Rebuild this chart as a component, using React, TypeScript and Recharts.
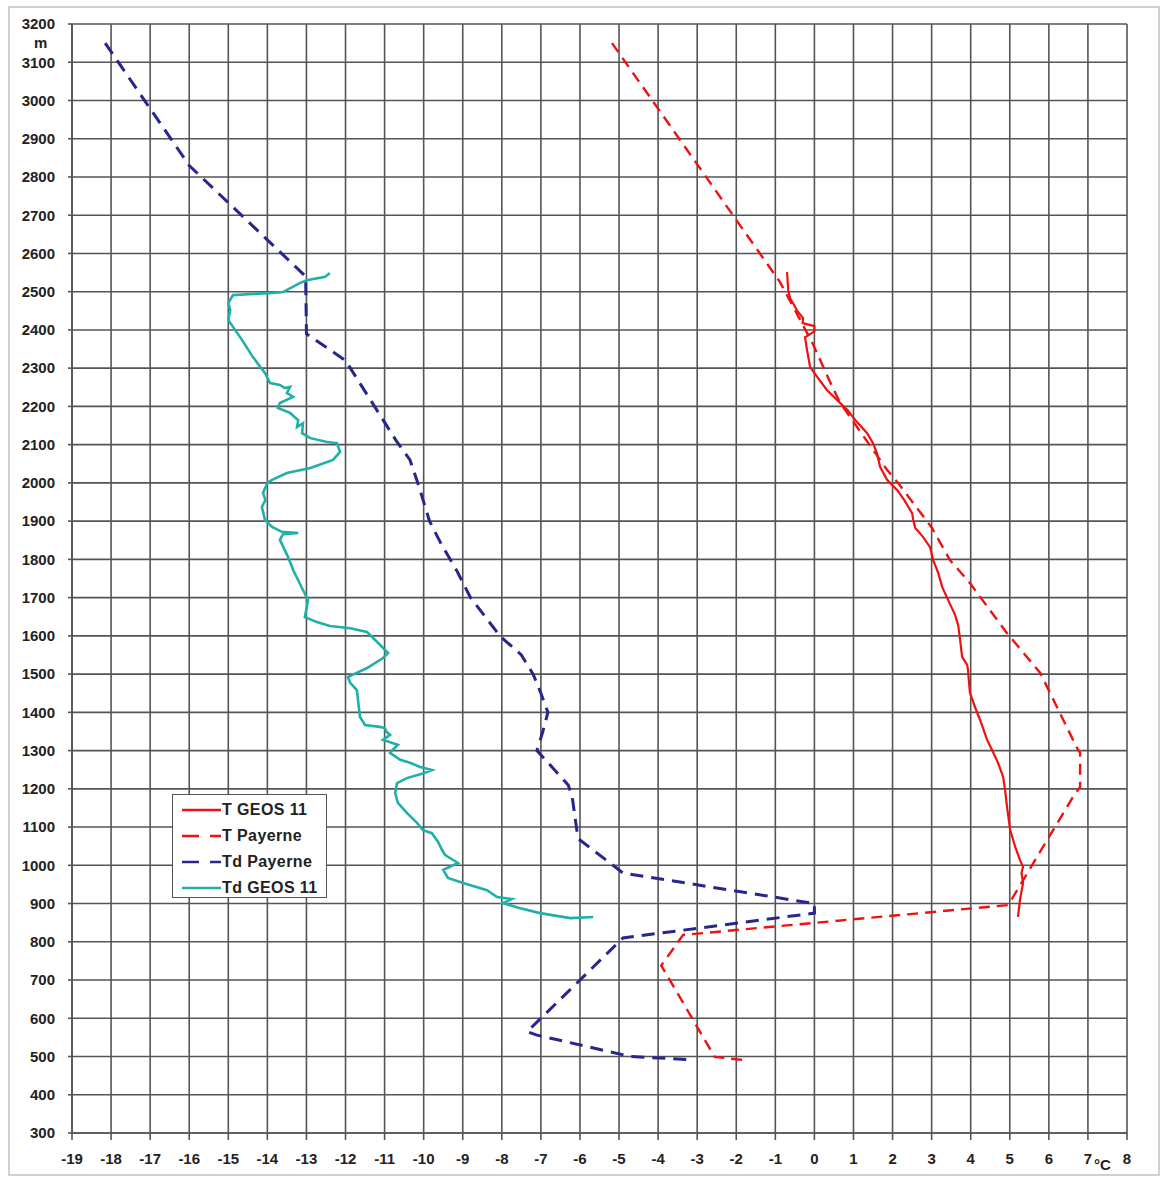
import { ScatterChart, Scatter, XAxis, YAxis, CartesianGrid, Legend } from "recharts"

// temperature profiles: h = height (m), t = temperature (°C)
const tGeos = [
  { h: 2551, t: -0.7 }, { h: 2504, t: -0.67 }, { h: 2483, t: -0.62 }, { h: 2447, t: -0.42 },
  { h: 2431, t: -0.29 }, { h: 2418, t: -0.3 }, { h: 2410, t: 0.0 }, { h: 2396, t: 0.0 },
  { h: 2381, t: -0.24 }, { h: 2348, t: -0.19 }, { h: 2303, t: -0.11 }, { h: 2277, t: 0.07 },
  { h: 2243, t: 0.32 }, { h: 2217, t: 0.58 }, { h: 2191, t: 0.84 }, { h: 2159, t: 1.09 },
  { h: 2130, t: 1.35 }, { h: 2104, t: 1.5 }, { h: 2078, t: 1.6 }, { h: 2042, t: 1.68 },
  { h: 2008, t: 1.86 }, { h: 1981, t: 2.12 }, { h: 1955, t: 2.3 }, { h: 1921, t: 2.5 },
  { h: 1903, t: 2.53 }, { h: 1882, t: 2.58 }, { h: 1859, t: 2.78 }, { h: 1832, t: 2.96 },
  { h: 1798, t: 3.04 }, { h: 1764, t: 3.17 }, { h: 1728, t: 3.27 }, { h: 1694, t: 3.42 },
  { h: 1655, t: 3.6 }, { h: 1628, t: 3.68 }, { h: 1589, t: 3.73 }, { h: 1545, t: 3.78 },
  { h: 1524, t: 3.91 }, { h: 1511, t: 3.93 }, { h: 1451, t: 3.98 }, { h: 1414, t: 4.11 },
  { h: 1380, t: 4.24 }, { h: 1328, t: 4.42 }, { h: 1301, t: 4.55 }, { h: 1268, t: 4.7 },
  { h: 1231, t: 4.83 }, { h: 1197, t: 4.88 }, { h: 1152, t: 4.93 }, { h: 1092, t: 5.01 },
  { h: 1048, t: 5.14 }, { h: 1014, t: 5.26 }, { h: 996, t: 5.34 }, { h: 980, t: 5.3 },
  { h: 954, t: 5.34 }, { h: 909, t: 5.26 }, { h: 865, t: 5.21 },
]

const tPayerne = [
  { h: 3150, t: -5.18 }, { h: 2525, t: -0.88 }, { h: 2366, t: -0.05 }, { h: 2253, t: 0.45 },
  { h: 2209, t: 0.66 }, { h: 2034, t: 1.86 }, { h: 2000, t: 2.14 }, { h: 1882, t: 3.01 },
  { h: 1798, t: 3.47 }, { h: 1738, t: 3.98 }, { h: 1607, t: 4.93 }, { h: 1503, t: 5.78 },
  { h: 1307, t: 6.72 }, { h: 1294, t: 6.8 }, { h: 1205, t: 6.8 }, { h: 1179, t: 6.62 },
  { h: 1048, t: 5.85 }, { h: 896, t: 4.96 }, { h: 818, t: -3.36 }, { h: 738, t: -3.92 },
  { h: 499, t: -2.55 }, { h: 491, t: -1.83 },
]

const tdPayerne = [
  { h: 3150, t: -18.15 }, { h: 2830, t: -16.0 }, { h: 2540, t: -13.02 }, { h: 2390, t: -13.0 },
  { h: 2320, t: -12.0 }, { h: 2110, t: -10.7 }, { h: 2060, t: -10.35 }, { h: 2000, t: -10.15 },
  { h: 1900, t: -9.85 }, { h: 1840, t: -9.55 }, { h: 1770, t: -9.15 }, { h: 1700, t: -8.8 },
  { h: 1600, t: -8.05 }, { h: 1550, t: -7.5 }, { h: 1500, t: -7.2 }, { h: 1450, t: -7.0 },
  { h: 1400, t: -6.82 }, { h: 1350, t: -6.95 }, { h: 1300, t: -7.1 }, { h: 1210, t: -6.3 },
  { h: 1180, t: -6.2 }, { h: 1070, t: -6.05 }, { h: 980, t: -4.9 }, { h: 900, t: 0.0 },
  { h: 875, t: 0.0 }, { h: 810, t: -4.9 }, { h: 565, t: -7.35 }, { h: 556, t: -7.1 },
  { h: 500, t: -4.7 }, { h: 492, t: -3.2 },
]

const tdGeos = [
  { h: 2549, t: -12.4 }, { h: 2539, t: -12.52 }, { h: 2530, t: -12.99 }, { h: 2523, t: -13.16 },
  { h: 2499, t: -13.6 }, { h: 2497, t: -13.86 }, { h: 2491, t: -14.88 }, { h: 2470, t: -15.0 },
  { h: 2452, t: -14.95 }, { h: 2426, t: -15.0 }, { h: 2408, t: -14.88 }, { h: 2374, t: -14.65 },
  { h: 2329, t: -14.37 }, { h: 2287, t: -14.06 }, { h: 2261, t: -13.93 }, { h: 2256, t: -13.68 },
  { h: 2248, t: -13.55 }, { h: 2251, t: -13.42 }, { h: 2235, t: -13.5 }, { h: 2225, t: -13.34 },
  { h: 2209, t: -13.68 }, { h: 2196, t: -13.73 }, { h: 2183, t: -13.42 }, { h: 2164, t: -13.21 },
  { h: 2146, t: -13.24 }, { h: 2156, t: -13.09 }, { h: 2130, t: -13.11 }, { h: 2117, t: -12.9 },
  { h: 2107, t: -12.47 }, { h: 2104, t: -12.22 }, { h: 2081, t: -12.14 }, { h: 2060, t: -12.32 },
  { h: 2039, t: -12.9 }, { h: 2026, t: -13.5 }, { h: 2008, t: -13.88 }, { h: 2000, t: -14.0 },
  { h: 1974, t: -14.11 }, { h: 1955, t: -14.05 }, { h: 1937, t: -14.14 }, { h: 1903, t: -14.06 },
  { h: 1885, t: -13.88 }, { h: 1872, t: -13.63 }, { h: 1869, t: -13.21 }, { h: 1866, t: -13.6 },
  { h: 1851, t: -13.68 }, { h: 1806, t: -13.47 }, { h: 1772, t: -13.34 }, { h: 1720, t: -13.09 },
  { h: 1694, t: -12.96 }, { h: 1676, t: -12.99 }, { h: 1649, t: -13.04 }, { h: 1636, t: -12.73 },
  { h: 1626, t: -12.4 }, { h: 1620, t: -11.88 }, { h: 1610, t: -11.45 }, { h: 1584, t: -11.19 },
  { h: 1555, t: -10.91 }, { h: 1542, t: -11.04 }, { h: 1516, t: -11.45 }, { h: 1492, t: -11.94 },
  { h: 1477, t: -11.88 }, { h: 1458, t: -11.71 }, { h: 1432, t: -11.68 }, { h: 1388, t: -11.63 },
  { h: 1367, t: -11.5 }, { h: 1362, t: -11.12 }, { h: 1359, t: -10.99 }, { h: 1349, t: -10.95 },
  { h: 1341, t: -10.86 }, { h: 1328, t: -11.04 }, { h: 1320, t: -10.8 }, { h: 1315, t: -10.66 },
  { h: 1301, t: -10.8 }, { h: 1294, t: -10.86 }, { h: 1276, t: -10.6 }, { h: 1268, t: -10.35 },
  { h: 1257, t: -10.09 }, { h: 1249, t: -9.79 }, { h: 1241, t: -10.0 }, { h: 1228, t: -10.43 },
  { h: 1215, t: -10.68 }, { h: 1189, t: -10.73 }, { h: 1163, t: -10.66 }, { h: 1137, t: -10.43 },
  { h: 1111, t: -10.17 }, { h: 1092, t: -10.02 }, { h: 1084, t: -9.79 }, { h: 1061, t: -9.63 },
  { h: 1040, t: -9.53 }, { h: 1027, t: -9.45 }, { h: 1006, t: -9.12 }, { h: 988, t: -9.5 },
  { h: 967, t: -9.38 }, { h: 954, t: -8.99 }, { h: 935, t: -8.38 }, { h: 917, t: -8.12 },
  { h: 912, t: -7.74 }, { h: 901, t: -7.97 }, { h: 888, t: -7.53 }, { h: 875, t: -7.02 },
  { h: 862, t: -6.25 }, { h: 865, t: -5.66 },
]

const xTicks = Array.from({ length: 28 }, (_, i) => i - 19)
const yTicks = Array.from({ length: 30 }, (_, i) => 300 + i * 100)

const RED = "#f01010"
const NAVY = "#26268c"
const TEAL = "#1fb0a8"
const GRID = "#555"
const FONT = "'Liberation Sans', Arial, sans-serif"

const series = [
  { name: "T GEOS 11", data: tGeos, color: RED, width: 2.2, dash: undefined, icon: undefined },
  { name: "T Payerne", data: tPayerne, color: RED, width: 2.4, dash: "11 7", icon: "17 11" },
  { name: "Td Payerne", data: tdPayerne, color: NAVY, width: 3, dash: "13 8", icon: "17 11" },
  { name: "Td GEOS 11", data: tdGeos, color: TEAL, width: 2.6, dash: undefined, icon: undefined },
]

const noDot = () => <g />

function LegendBox() {
  return (
    <div
      style={{
        width: 155,
        height: 104,
        border: "1.5px solid #555",
        background: "#fff",
        boxSizing: "border-box",
        paddingTop: 2,
        fontFamily: FONT,
        fontWeight: "bold",
        fontSize: 16,
        color: "#222",
      }}
    >
      {series.map((s) => (
        <div key={s.name} style={{ display: "flex", alignItems: "center", height: 26 }}>
          <svg width={48} height={10} style={{ flexShrink: 0 }}>
            <line x1={9} y1={5} x2={48} y2={5} stroke={s.color} strokeWidth={2.5} strokeDasharray={s.icon} />
          </svg>
          <span style={{ marginLeft: 1, letterSpacing: 0.4 }}>{s.name}</span>
        </div>
      ))}
    </div>
  )
}

export default function App() {
  const tickStyle = { fontSize: 15, fontWeight: "bold", fill: "#222", fontFamily: FONT }
  return (
    <div style={{ position: "absolute", left: 0, top: 0, width: 1165, height: 1181, background: "#fff" }}>
      <div
        style={{
          position: "absolute",
          left: 8,
          top: 6,
          width: 1152,
          height: 1170,
          border: "2px solid #cfcfcf",
          boxSizing: "border-box",
        }}
      />
      <ScatterChart width={1165} height={1181} margin={{ top: 24, right: 38, left: 0, bottom: 8 }}>
        <CartesianGrid stroke={GRID} strokeWidth={1.6} />
        <XAxis
          type="number"
          dataKey="t"
          domain={[-19, 8]}
          ticks={xTicks}
          interval={0}
          allowDataOverflow
          height={40}
          tickSize={7}
          tickMargin={13}
          tick={tickStyle}
          stroke={GRID}
          strokeWidth={1.6}
        />
        <YAxis
          type="number"
          dataKey="h"
          domain={[300, 3200]}
          ticks={yTicks}
          interval={0}
          allowDataOverflow
          width={72}
          tickSize={4}
          tickMargin={13}
          tick={tickStyle}
          stroke={GRID}
          strokeWidth={1.6}
        />
        <Legend
          layout="vertical"
          align="center"
          verticalAlign="middle"
          content={() => <LegendBox />}
          wrapperStyle={{ left: 172, top: 794, width: 155, height: 104 }}
        />
        {series.map((s) => (
          <Scatter
            key={s.name}
            name={s.name}
            data={s.data}
            fill={s.color}
            shape={noDot}
            line={{ stroke: s.color, strokeWidth: s.width, strokeDasharray: s.dash }}
            lineJointType="linear"
            isAnimationActive={false}
          />
        ))}
      </ScatterChart>
      <div
        style={{ position: "absolute", left: 34, top: 34, fontFamily: FONT, fontWeight: "bold", fontSize: 15, color: "#222" }}
      >
        m
      </div>
      <div
        style={{ position: "absolute", left: 1094, top: 1156, fontFamily: FONT, fontWeight: "bold", fontSize: 15, color: "#222" }}
      >
        °C
      </div>
    </div>
  )
}
